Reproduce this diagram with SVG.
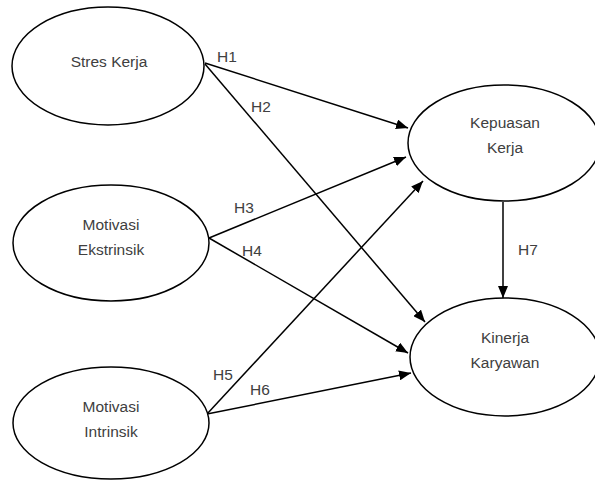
<svg xmlns="http://www.w3.org/2000/svg" width="595" height="481" viewBox="0 0 595 481">
<style>
.node ellipse{fill:#fff;stroke:#000;stroke-width:1.5}
text{font-family:"Liberation Sans",Arial,sans-serif;font-size:15.5px;fill:#404040;text-anchor:middle}
.conn line{stroke:#000;stroke-width:1.5}
</style>
<defs>
<marker id="ah" viewBox="0 0 12 10" refX="12" refY="5" markerWidth="12" markerHeight="10" markerUnits="userSpaceOnUse" orient="auto">
<path d="M0,0 L12,5 L0,10 Z" fill="#000"/>
</marker>
</defs>
<rect width="595" height="481" fill="#fff"/>
<g id="connectors" class="conn">
<line x1="205" y1="63" x2="408" y2="128" marker-end="url(#ah)"/>
<line x1="205" y1="64" x2="425" y2="322" marker-end="url(#ah)"/>
<line x1="209" y1="238" x2="406" y2="157" marker-end="url(#ah)"/>
<line x1="209" y1="238" x2="408" y2="353" marker-end="url(#ah)"/>
<line x1="207" y1="414" x2="423" y2="181" marker-end="url(#ah)"/>
<line x1="207" y1="414" x2="411" y2="373" marker-end="url(#ah)"/>
<line x1="503" y1="202" x2="503" y2="298" marker-end="url(#ah)"/>
</g>
<g id="labels">
<text x="227" y="62">H1</text>
<text x="261" y="112">H2</text>
<text x="244" y="213">H3</text>
<text x="252" y="256">H4</text>
<text x="223" y="380">H5</text>
<text x="260" y="395">H6</text>
<text x="528" y="255">H7</text>
</g>
<g id="stres-kerja" class="node">
<ellipse cx="108" cy="66" rx="96" ry="59"/>
<text x="109" y="67">Stres Kerja</text>
</g>
<g id="motivasi-ekstrinsik" class="node">
<ellipse cx="111" cy="243" rx="98" ry="58"/>
<text x="111" y="230">Motivasi</text>
<text x="111" y="255">Ekstrinsik</text>
</g>
<g id="motivasi-intrinsik" class="node">
<ellipse cx="111" cy="423" rx="98" ry="56"/>
<text x="111" y="412">Motivasi</text>
<text x="111" y="437">Intrinsik</text>
</g>
<g id="kepuasan-kerja" class="node">
<ellipse cx="504" cy="143" rx="96" ry="58"/>
<text x="505" y="128">Kepuasan</text>
<text x="505" y="153">Kerja</text>
</g>
<g id="kinerja-karyawan" class="node">
<ellipse cx="505" cy="357" rx="95" ry="59"/>
<text x="505" y="343">Kinerja</text>
<text x="505" y="368">Karyawan</text>
</g>
</svg>
